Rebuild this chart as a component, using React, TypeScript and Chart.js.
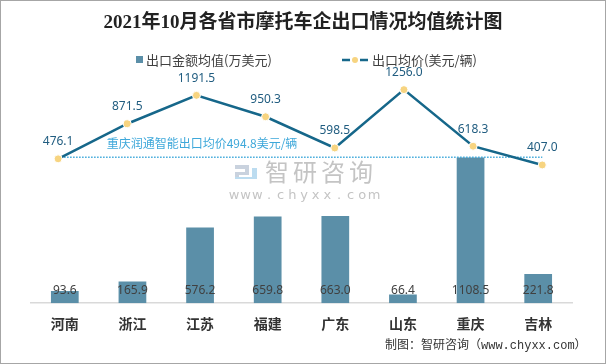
import React, { useEffect, useRef } from "react";
import { Chart, registerables } from "chart.js";

Chart.register(...registerables);

const categories = ["河南", "浙江", "江苏", "福建", "广东", "山东", "重庆", "吉林"];
const amountValues = [93.6, 165.9, 576.2, 659.8, 663.0, 66.4, 1108.5, 221.8];
const priceValues = [476.1, 871.5, 1191.5, 950.3, 598.5, 1256.0, 618.3, 407.0];
const referenceValue = 494.8;
const referenceLabel = "重庆润通智能出口均价494.8美元/辆";
const amountLabel = "出口金额均值(万美元)";
const priceLabel = "出口均价(美元/辆)";
const titleText = "2021年10月各省市摩托车企出口情况均值统计图";
const footerText = "制图：智研咨询（www.chyxx.com）";

const BAR_COLOR = "#5b8fa8";
const LINE_COLOR = "#16678a";
const POINT_COLOR = "#f7d480";
const REF_COLOR = "#3ea8da";

const decor = {
  id: "decor",
  beforeDatasetsDraw(chart: any) {
    const ctx = chart.ctx;
    ctx.save();
    // watermark logo
    ctx.fillStyle = "#c9d2de";
    ctx.fillRect(235, 165, 14, 4);
    ctx.fillRect(245, 165, 4, 9);
    ctx.fillRect(235, 172, 14, 3);
    ctx.fillRect(235, 172, 4, 7);
    ctx.fillStyle = "#bcdcf0";
    ctx.fillRect(252, 168, 5, 11);
    ctx.fillRect(235, 177, 22, 2);
    ctx.fillStyle = "#c4c4c4";
    ctx.font = "24px 'Noto Sans CJK SC'";
    ctx.textBaseline = "middle";
    ctx.textAlign = "left";
    const wm = "智研咨询";
    for (let i = 0; i < wm.length; i++) ctx.fillText(wm[i], 265 + i * 28, 172);
    ctx.font = "13px 'DejaVu Sans'";
    const url = "www.chyxx.com";
    const step = (372 - 232) / (url.length - 1);
    ctx.textAlign = "center";
    for (let i = 0; i < url.length; i++) ctx.fillText(url[i], 234 + i * step, 196);
    ctx.restore();
  },
  afterDatasetsDraw(chart: any) {
    const ctx = chart.ctx;
    ctx.save();
    ctx.textBaseline = "middle";
    ctx.textAlign = "center";
    // bar labels
    const barMeta = chart.getDatasetMeta(0);
    ctx.font = "12px 'Noto Sans'";
    ctx.fillStyle = "#404040";
    barMeta.data.forEach((el: any, i: number) => {
      ctx.fillText(amountValues[i].toFixed(1), el.x, el.base - 12.5);
    });
    // line labels
    const lineMeta = chart.getDatasetMeta(1);
    ctx.fillStyle = "#215d80";
    lineMeta.data.forEach((el: any, i: number) => {
      ctx.fillText(priceValues[i].toFixed(1), el.x, el.y - 17);
    });
    // reference label
    ctx.fillStyle = REF_COLOR;
    ctx.font = "12px 'Noto Sans CJK SC'";
    ctx.fillText(referenceLabel, 202, 143);
    // title
    ctx.fillStyle = "#222222";
    ctx.font = "bold 19px 'Liberation Serif', 'Noto Sans CJK SC'";
    ctx.fillText(titleText, 303, 23);
    // legend
    ctx.textAlign = "left";
    ctx.fillStyle = BAR_COLOR;
    ctx.fillRect(136, 56, 7, 7);
    ctx.fillStyle = "#404040";
    ctx.font = "13px 'Noto Sans CJK SC'";
    ctx.fillText(amountLabel, 146, 60);
    ctx.strokeStyle = LINE_COLOR;
    ctx.lineWidth = 2.5;
    ctx.beginPath();
    ctx.moveTo(342, 60);
    ctx.lineTo(350, 60);
    ctx.moveTo(360, 60);
    ctx.lineTo(368, 60);
    ctx.stroke();
    ctx.fillStyle = POINT_COLOR;
    ctx.beginPath();
    ctx.arc(355, 60, 3, 0, Math.PI * 2);
    ctx.fill();
    ctx.fillStyle = "#404040";
    ctx.fillText(priceLabel, 372, 60);
    // footer
    ctx.font = "12px 'Liberation Mono', 'Noto Sans CJK SC'";
    ctx.fillStyle = "#333333";
    ctx.fillText(footerText, 385, 346);
    // border
    ctx.strokeStyle = "#a6a6a6";
    ctx.lineWidth = 1;
    ctx.strokeRect(0.5, 0.5, 605, 363);
    ctx.restore();
  },
};

export default function App() {
  const ref = useRef<HTMLCanvasElement | null>(null);
  useEffect(() => {
    if (!ref.current) return;
    const chart = new Chart(ref.current, {
      type: "bar",
      data: {
        labels: categories,
        datasets: [
          {
            type: "bar",
            label: amountLabel,
            data: amountValues,
            xAxisID: "x",
            yAxisID: "yBar",
            backgroundColor: BAR_COLOR,
            categoryPercentage: 1,
            barPercentage: 0.41,
            grouped: false,
            order: 3,
          } as any,
          {
            type: "line",
            label: priceLabel,
            data: priceValues.map((v, i) => ({ x: i, y: v })),
            xAxisID: "xLine",
            yAxisID: "yLine",
            borderColor: LINE_COLOR,
            borderWidth: 2.5,
            pointBackgroundColor: POINT_COLOR,
            pointBorderColor: "#ffffff",
            pointBorderWidth: 1,
            pointRadius: 4,
            order: 1,
          } as any,
          {
            type: "line",
            label: "ref",
            data: [
              { x: 0, y: referenceValue },
              { x: categories.length - 1, y: referenceValue },
            ],
            xAxisID: "xLine",
            yAxisID: "yLine",
            borderColor: REF_COLOR,
            borderWidth: 1.5,
            borderDash: [1.5, 1.5],
            pointRadius: 0,
            order: 2,
          } as any,
        ],
      },
      options: {
        animation: false,
        responsive: false,
        devicePixelRatio: 1,
        layout: { padding: { left: 31, right: 34, top: 84, bottom: 20 } },
        plugins: {
          legend: { display: false },
          title: { display: false },
          tooltip: { enabled: false },
        },
        scales: {
          x: {
            type: "category",
            offset: true,
            grid: { display: false, drawTicks: false },
            border: { display: true, color: "#d9d9d9", width: 1.5 },
            ticks: {
              color: "#333333",
              padding: 12,
              font: { family: "'Noto Sans CJK SC'", size: 14, weight: "bold" },
            },
          },
          xLine: { type: "linear", display: false, offset: false, min: -0.392, max: 7.43 },
          yBar: { type: "linear", display: false, min: 0, max: 1668 },
          yLine: { type: "linear", display: false, min: -1151, max: 1319.5 },
        } as any,
      },
      plugins: [decor],
    });
    return () => chart.destroy();
  }, []);
  return (
    <div style={{ position: "fixed", left: 0, top: 0, width: 606, height: 364, background: "#ffffff" }}>
      <canvas ref={ref} width={606} height={364} style={{ width: 606, height: 364, display: "block" }} />
    </div>
  );
}
